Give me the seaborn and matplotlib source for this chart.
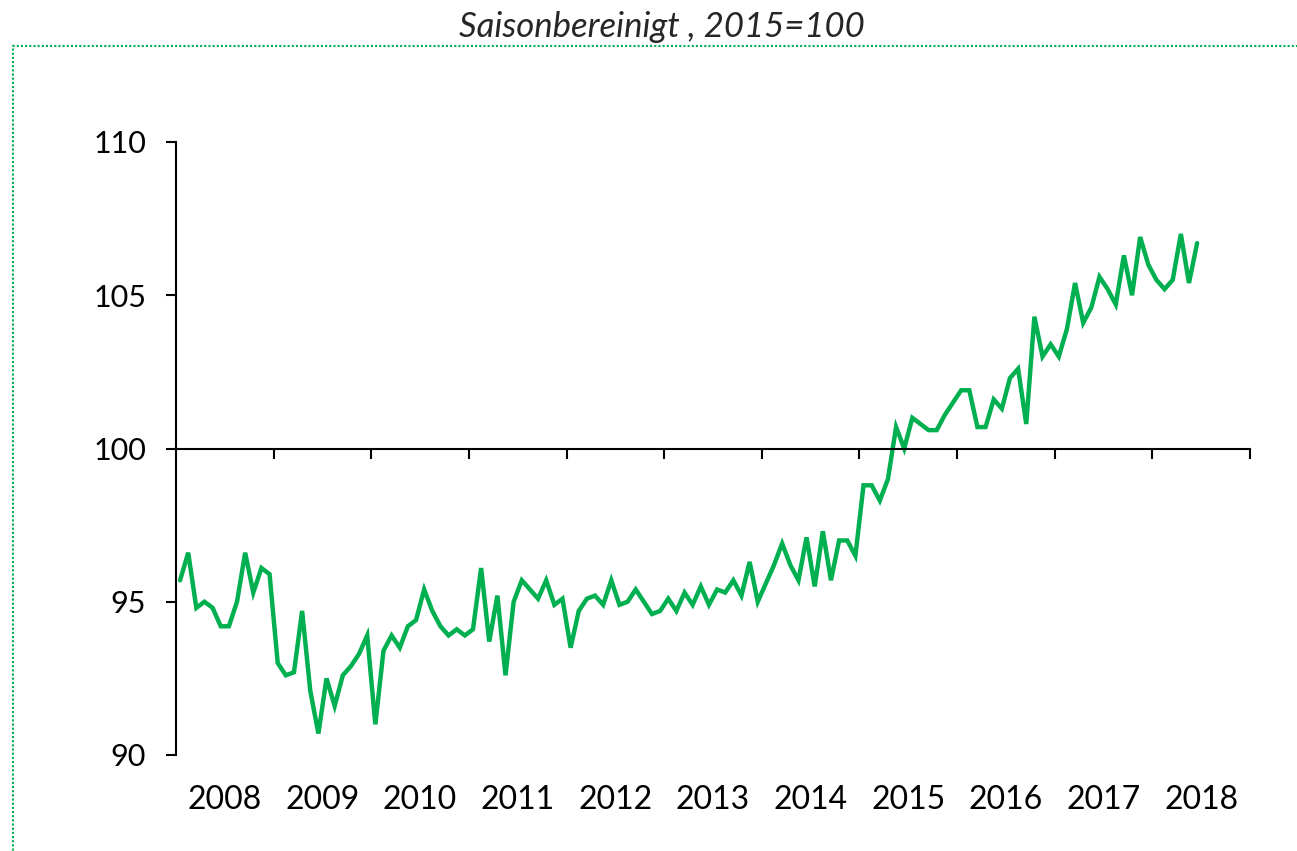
import pandas as pd
import matplotlib.pyplot as plt
import seaborn as sns
from matplotlib.patches import Rectangle

OUTPUT_PATH = "out.png"

# monthly index, Jan 2008 - Jun 2018, seasonally adjusted, 2015=100
values = [
    95.7, 96.6, 94.8, 95.0, 94.8, 94.2, 94.2, 95.0, 96.6, 95.3, 96.1, 95.9,   # 2008
    93.0, 92.6, 92.7, 94.7, 92.1, 90.7, 92.5, 91.6, 92.6, 92.9, 93.3, 93.9,   # 2009
    91.0, 93.4, 93.9, 93.5, 94.2, 94.4, 95.4, 94.7, 94.2, 93.9, 94.1, 93.9,   # 2010
    94.1, 96.1, 93.7, 95.2, 92.6, 95.0, 95.7, 95.4, 95.1, 95.7, 94.9, 95.1,   # 2011
    93.5, 94.7, 95.1, 95.2, 94.9, 95.7, 94.9, 95.0, 95.4, 95.0, 94.6, 94.7,   # 2012
    95.1, 94.7, 95.3, 94.9, 95.5, 94.9, 95.4, 95.3, 95.7, 95.2, 96.3, 95.0,   # 2013
    95.6, 96.2, 96.9, 96.2, 95.7, 97.1, 95.5, 97.3, 95.7, 97.0, 97.0, 96.5,   # 2014
    98.8, 98.8, 98.3, 99.0, 100.7, 100.0, 101.0, 100.8, 100.6, 100.6, 101.1, 101.5,  # 2015
    101.9, 101.9, 100.7, 100.7, 101.6, 101.3, 102.3, 102.6, 100.8, 104.3, 103.0, 103.4,  # 2016
    103.0, 103.9, 105.4, 104.1, 104.6, 105.6, 105.2, 104.7, 106.3, 105.0, 106.9, 106.0,  # 2017
    105.5, 105.2, 105.5, 107.0, 105.4, 106.7,   # 2018
]
years = ["2008", "2009", "2010", "2011", "2012", "2013",
         "2014", "2015", "2016", "2017", "2018"]

GREEN = "#00B050"


def main():
    df = pd.DataFrame({"month": range(len(values)), "index": values})

    sns.set_style("white")
    plt.rcParams["font.family"] = ["Lato", "DejaVu Sans"]

    fig = plt.figure(figsize=(12.97, 8.51), dpi=100)
    ax = fig.add_axes([176 / 1297, 1 - 755 / 851, 1074 / 1297, 613 / 851])

    sns.lineplot(data=df, x="month", y="index", ax=ax, color=GREEN,
                 linewidth=3.2, solid_joinstyle="miter")

    n_slots = 12 * len(years)
    ax.set_xlim(-0.5, n_slots - 0.5)
    ax.set_ylim(90, 110)
    ax.set_yticks([90, 95, 100, 105, 110])
    ax.set_xticks([12 * k - 0.5 for k in range(1, len(years) + 1)])
    ax.set_xticklabels([])
    ax.set_xlabel("")
    ax.set_ylabel("")

    for side in ["top", "right"]:
        ax.spines[side].set_visible(False)
    ax.spines["bottom"].set_position(("data", 100))
    for side in ["left", "bottom"]:
        ax.spines[side].set_color("black")
        ax.spines[side].set_linewidth(1.5)

    ax.tick_params(axis="y", direction="out", length=7.5, width=1.5,
                   pad=14, labelsize=22, colors="black", left=True)
    ax.tick_params(axis="x", direction="out", length=7.5, width=1.5,
                   bottom=True, colors="black")

    # year labels under the plot area
    for k, yr in enumerate(years):
        ax.text(12 * k + 5.5, -0.073, yr, transform=ax.get_xaxis_transform(),
                ha="center", va="center", fontsize=23, color="black")

    fig.text(662 / 1297, 1 - 27 / 851, "Saisonbereinigt , 2015=100",
             ha="center", va="center", fontsize=25, style="italic")

    # dotted chart area border (top and left edge visible)
    fig.add_artist(Rectangle((13 / 1297, -0.1), 1.2, 1 - 46 / 851 + 0.1,
                             transform=fig.transFigure, fill=False,
                             edgecolor=GREEN, linewidth=1.5,
                             linestyle=(0, (1, 1)), clip_on=False))

    fig.savefig(OUTPUT_PATH, dpi=100)
    plt.close(fig)


if __name__ == "__main__":
    main()
